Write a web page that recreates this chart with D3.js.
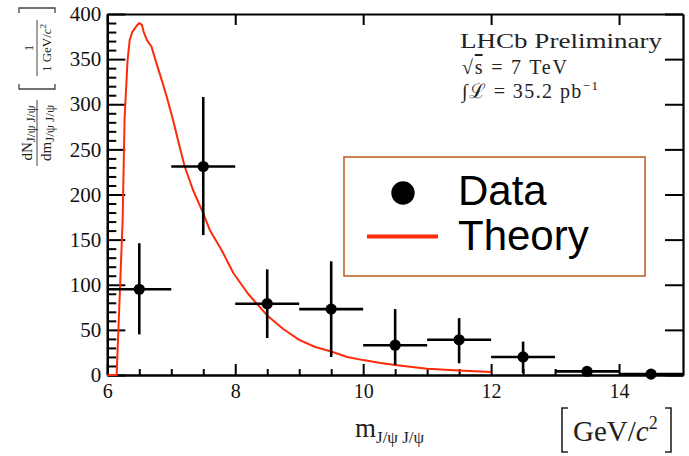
<!DOCTYPE html>
<html>
<head>
<meta charset="utf-8">
<script src="https://cdn.jsdelivr.net/npm/d3@7"></script>
<style>
  html, body { margin: 0; padding: 0; background: #fff; }
  svg { display: block; }
</style>
</head>
<body>
<div id="chart"></div>
<script>
// ---------- data ----------
const binCenters = [6.5, 7.5, 8.5, 9.5, 10.5, 11.5, 12.5, 13.5, 14.5];
const dataValues = [95, 231, 79, 73, 33, 39, 20, 4, 1];
const errLower   = [45, 155, 41, 20, 11, 13, 2, 0, 0];
const errUpper   = [146, 308, 117, 126, 73, 63, 37, 7, 1];
const binHalfWidth = 0.5;

const theoryX = [6.0, 6.146, 6.24, 6.27, 6.317, 6.35, 6.39, 6.46, 6.5, 6.54, 6.57, 6.62, 6.69, 6.77, 6.85, 6.93,
                 7.03, 7.12, 7.21, 7.34, 7.5, 7.6, 7.79, 7.97, 8.2, 8.5, 8.75, 9.0, 9.25, 9.5, 9.75, 10.0,
                 10.25, 10.5, 11.0, 11.5, 12.0];
const theoryY = [0, 0, 172, 284, 349, 371, 380, 387, 390, 388, 380, 371, 364, 345, 327, 308,
                 282, 256, 231, 205, 179, 161, 138, 113, 90, 66, 51, 39, 31, 26, 20, 16.5,
                 13.5, 11, 7, 5, 3.3];

const xMajorTicks = [6, 8, 10, 12, 14];
const xMinorTicks = [6.5, 7, 7.5, 8.5, 9, 9.5, 10.5, 11, 11.5, 12.5, 13, 13.5, 14.5];
const yMajorTicks = [0, 50, 100, 150, 200, 250, 300, 350, 400];
const yMinorTicks = d3.range(0, 401, 10).filter(v => v % 50 !== 0);

const legendLabels = ["Data", "Theory"];

// ---------- layout ----------
const W = 689, H = 456;
const L = 107.3, R = 683, T = 14, B = 375;
const red = "#ff2a0a";
const serif = "'Liberation Serif', 'DejaVu Serif', serif";
const sans = "'Liberation Sans', Arial, sans-serif";

const svg = d3.select("#chart").append("svg")
  .attr("width", W).attr("height", H)
  .attr("viewBox", `0 0 ${W} ${H}`);
svg.append("rect").attr("width", W).attr("height", H).attr("fill", "#fff");

const x = d3.scaleLinear().domain([6, 15]).range([L, R]);
const y = d3.scaleLinear().domain([0, 400]).range([B, T]);

function styleAxis(g, fontSize) {
  g.attr("font-family", serif);
  g.selectAll(".domain").attr("stroke", "#000").attr("stroke-width", 2.2);
  g.selectAll(".tick line").attr("stroke", "#000").attr("stroke-width", 2);
  g.selectAll(".tick text").attr("font-family", serif).attr("font-size", fontSize).attr("fill", "#111");
}

// bottom axis
const gb = svg.append("g").attr("transform", `translate(0,${B})`);
gb.call(d3.axisBottom(x).tickValues(xMinorTicks).tickSize(-6).tickSizeOuter(0).tickFormat(""));
gb.call(g => styleAxis(g, 20));
const gb2 = svg.append("g").attr("transform", `translate(0,${B})`);
gb2.call(d3.axisBottom(x).tickValues(xMajorTicks).tickSize(-11).tickSizeOuter(0).tickPadding(9).tickFormat(d3.format("d")));
gb2.call(g => styleAxis(g, 20));

// top axis
const gt = svg.append("g").attr("transform", `translate(0,${T})`);
gt.call(d3.axisTop(x).tickValues(xMinorTicks).tickSize(-6).tickSizeOuter(0).tickFormat(""));
gt.call(d3.axisTop(x).tickValues(xMajorTicks).tickSize(-11).tickSizeOuter(0).tickFormat(""));
styleAxis(gt, 20);

// left axis
const gl = svg.append("g").attr("transform", `translate(${L},0)`);
gl.call(d3.axisLeft(y).tickValues(yMinorTicks).tickSize(-9).tickSizeOuter(0).tickFormat(""));
styleAxis(gl, 21);
const gl2 = svg.append("g").attr("transform", `translate(${L},0)`);
gl2.call(d3.axisLeft(y).tickValues(yMajorTicks).tickSize(-18).tickSizeOuter(0).tickPadding(6).tickFormat(d3.format("d")));
styleAxis(gl2, 21);

// right axis
const gr = svg.append("g").attr("transform", `translate(${R},0)`);
gr.call(d3.axisRight(y).tickValues(yMinorTicks).tickSize(-9).tickSizeOuter(0).tickFormat(""));
gr.call(d3.axisRight(y).tickValues(yMajorTicks).tickSize(-18).tickSizeOuter(0).tickFormat(""));
styleAxis(gr, 21);

// theory curve
const line = d3.line().x((d, i) => x(theoryX[i])).y((d, i) => y(theoryY[i]));
svg.append("path").datum(theoryY)
  .attr("d", line)
  .attr("fill", "none").attr("stroke", red).attr("stroke-width", 2).attr("stroke-linejoin", "round");

// data points
const pts = binCenters.map((c, i) => ({c, v: dataValues[i], lo: errLower[i], hi: errUpper[i]}));
const gp = svg.append("g");
gp.selectAll("line.h").data(pts).join("line")
  .attr("x1", d => x(d.c - binHalfWidth)).attr("x2", d => x(d.c + binHalfWidth))
  .attr("y1", d => y(d.v)).attr("y2", d => y(d.v))
  .attr("stroke", "#000").attr("stroke-width", 2.6);
gp.selectAll("line.v").data(pts).join("line")
  .attr("x1", d => x(d.c)).attr("x2", d => x(d.c))
  .attr("y1", d => y(d.lo)).attr("y2", d => y(d.hi))
  .attr("stroke", "#000").attr("stroke-width", 2.6);
gp.selectAll("circle").data(pts).join("circle")
  .attr("cx", d => x(d.c)).attr("cy", d => y(d.v)).attr("r", 5.6).attr("fill", "#000");

// LHCb text
const info = svg.append("g").attr("font-family", serif).attr("fill", "#222");
info.append("text").attr("x", 460).attr("y", 48).attr("font-size", 22)
  .attr("textLength", 202).attr("lengthAdjust", "spacingAndGlyphs").text("LHCb Preliminary");
const t2 = info.append("text").attr("x", 462).attr("y", 74).attr("font-size", 20)
  .attr("textLength", 105).attr("lengthAdjust", "spacing");
t2.append("tspan").text("√");
t2.append("tspan").attr("text-decoration", "overline").text("s");
t2.append("tspan").text(" = 7 TeV");
const t3 = info.append("text").attr("x", 462).attr("y", 98).attr("font-size", 20)
  .attr("textLength", 136).attr("lengthAdjust", "spacing");
t3.append("tspan").text("∫ℒ = 35.2 pb");
t3.append("tspan").attr("font-size", 13).attr("dy", -8).text("−1");

// legend
const lg = svg.append("g");
lg.append("rect").attr("x", 344).attr("y", 157).attr("width", 301).attr("height", 119)
  .attr("fill", "#fff").attr("stroke", "#c0642e").attr("stroke-width", 1.6);
lg.append("circle").attr("cx", 403).attr("cy", 193).attr("r", 11.7).attr("fill", "#000");
lg.append("line").attr("x1", 367).attr("x2", 438).attr("y1", 236.5).attr("y2", 236.5)
  .attr("stroke", red).attr("stroke-width", 4);
lg.selectAll("text").data(legendLabels).join("text")
  .attr("x", 458).attr("y", (d, i) => 205 + i * 45)
  .attr("font-family", sans).attr("font-size", 42).attr("fill", "#000")
  .text(d => d);

// x axis title
const xt = svg.append("text").attr("x", 355).attr("y", 437).attr("font-family", serif).attr("fill", "#222");
xt.append("tspan").attr("font-size", 27).text("m");
xt.append("tspan").attr("font-size", 17).attr("dy", 6).text("J/ψ J/ψ");

const ut = svg.append("g").attr("fill", "#222");
ut.append("path").attr("d", "M568,408 H562 V452 H568 M665,408 H671 V452 H665")
  .attr("fill", "none").attr("stroke", "#222").attr("stroke-width", 1.6);
const utt = ut.append("text").attr("x", 573).attr("y", 441).attr("font-family", serif).attr("font-size", 29);
utt.append("tspan").text("GeV/");
utt.append("tspan").attr("font-style", "italic").text("c");
utt.append("tspan").attr("font-size", 18).attr("dy", -12).text("2");

// y axis title (rotated)
const yt = svg.append("g").attr("transform", "translate(37,0) rotate(-90)")
  .attr("font-family", serif).attr("fill", "#222");
// dN/dm fraction
yt.append("line").attr("x1", -166).attr("x2", -100).attr("y1", 0).attr("y2", 0).attr("stroke", "#444").attr("stroke-width", 1);
const num = yt.append("text").attr("x", -133).attr("y", -5).attr("text-anchor", "middle").attr("font-size", 15);
num.append("tspan").text("dN");
num.append("tspan").attr("font-size", 13).attr("dy", 3).text("J/ψ J/ψ");
const den = yt.append("text").attr("x", -133).attr("y", 14).attr("text-anchor", "middle").attr("font-size", 15);
den.append("tspan").text("dm");
den.append("tspan").attr("font-size", 13).attr("dy", 3).text("J/ψ J/ψ");
// bracket [1 / 1 GeV/c^2]
yt.append("path").attr("d", "M-84,-18 H-89 V18 H-84 M-13,-18 H-8 V18 H-13")
  .attr("fill", "none").attr("stroke", "#444").attr("stroke-width", 1.3);
yt.append("line").attr("x1", -76).attr("x2", -20).attr("y1", 0).attr("y2", 0).attr("stroke", "#444").attr("stroke-width", 1);
yt.append("text").attr("x", -48).attr("y", -4).attr("text-anchor", "middle").attr("font-size", 13).text("1");
const dd = yt.append("text").attr("x", -48).attr("y", 14).attr("text-anchor", "middle").attr("font-size", 13);
dd.append("tspan").text("1 GeV/");
dd.append("tspan").attr("font-style", "italic").text("c");
dd.append("tspan").attr("font-size", 9).attr("dy", -5).text("2");
</script>
</body>
</html>
